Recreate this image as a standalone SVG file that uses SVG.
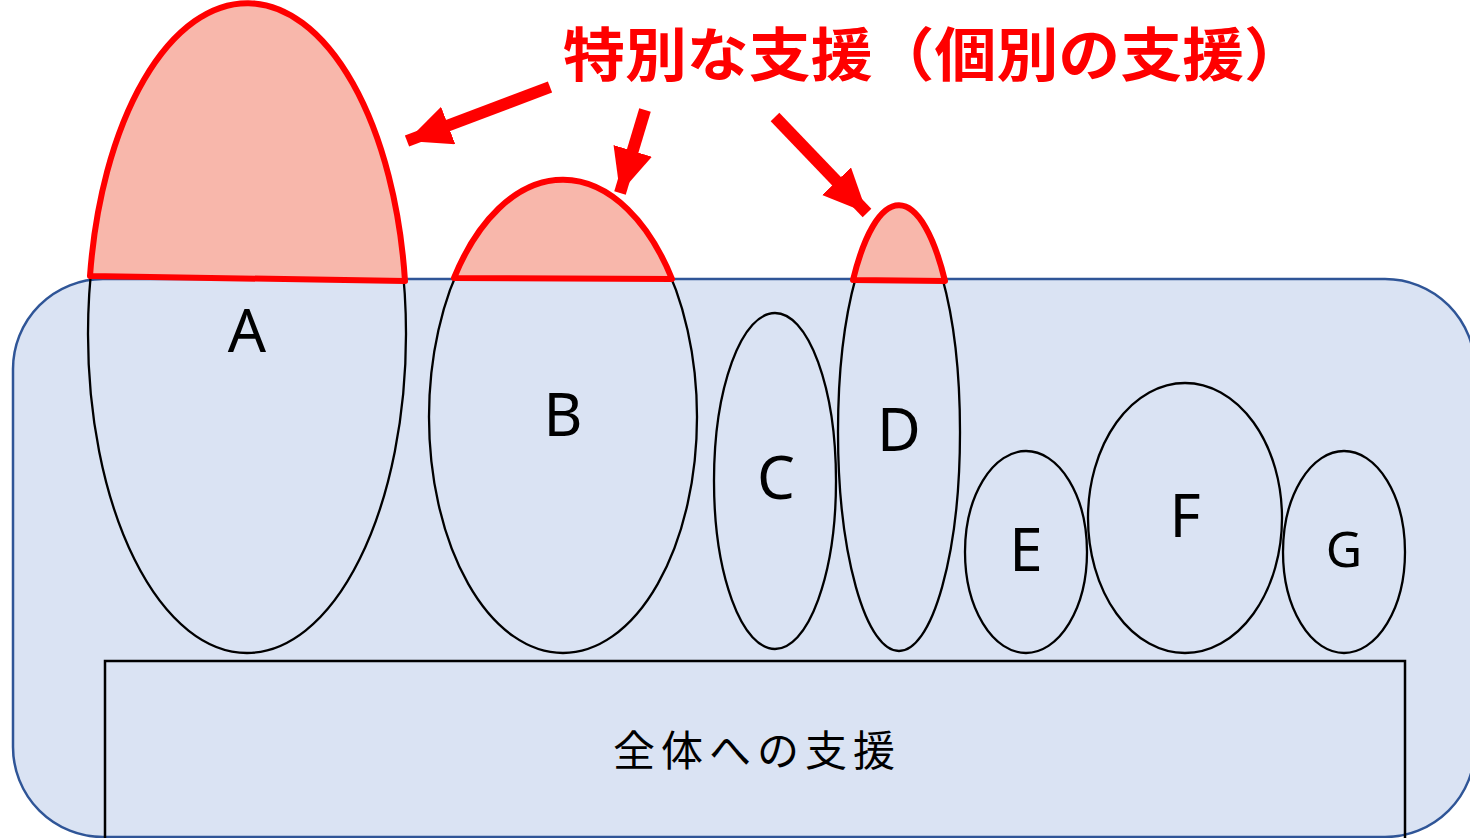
<svg xmlns="http://www.w3.org/2000/svg" width="1470" height="838" viewBox="0 0 1470 838">
<style>
.bg{fill:#DAE3F3;stroke:#2F5597;stroke-width:2.5}
.box{fill:none;stroke:#000;stroke-width:2.5}
.ell{fill:none;stroke:#000;stroke-width:2.3}
.cap{fill:#F8B7AB;stroke:#FF0000;stroke-width:6;stroke-linejoin:round}
.lbl{font-family:"Noto Sans","Liberation Sans",sans-serif;font-size:60px;fill:#000;text-anchor:middle}
.arr{stroke:#FF0000;stroke-width:12;fill:none}
.title{font-family:"Noto Sans CJK JP",sans-serif;font-weight:bold;font-size:58px;fill:#FF0000}
.base{font-family:"Noto Sans CJK JP",sans-serif;font-size:42px;fill:#000;text-anchor:middle}
</style>
<defs>
<marker id="ah" markerUnits="userSpaceOnUse" markerWidth="48" markerHeight="42" refX="44" refY="20" orient="auto">
<path d="M0,0 L44,20 L0,40 Z" fill="#FF0000"/>
</marker>
</defs>
<rect x="0" y="0" width="1470" height="838" fill="#FFFFFF"/>
<g id="whole">
<rect class="bg" x="13" y="279" width="1462" height="558" rx="90" ry="90"/>
</g>
<g id="base">
<rect class="box" x="105" y="661" width="1300" height="190"/>
<text class="base" x="757" y="766" letter-spacing="6">全体への支援</text>
</g>
<g id="A">
<ellipse class="ell" cx="247" cy="334" rx="159" ry="319"/>
<path class="cap" d="M90,276 A159,319 0 0 1 405,281 Z"/>
<text class="lbl" x="247" y="352">A</text>
</g>
<g id="B">
<ellipse class="ell" cx="563" cy="417" rx="134" ry="236"/>
<path class="cap" d="M454,278 A134,236 0 0 1 672,279 Z"/>
<text class="lbl" x="563" y="436">B</text>
</g>
<g id="C">
<ellipse class="ell" cx="775" cy="481" rx="61" ry="168"/>
<text class="lbl" x="776" y="499">C</text>
</g>
<g id="D">
<ellipse class="ell" cx="899" cy="432" rx="61" ry="219"/>
<path class="cap" d="M853,280 A61,219 0 0 1 945,281 Z"/>
<text class="lbl" x="899" y="451">D</text>
</g>
<g id="E">
<ellipse class="ell" cx="1026" cy="552" rx="61" ry="101"/>
<text class="lbl" x="1026" y="571">E</text>
</g>
<g id="F">
<ellipse class="ell" cx="1185" cy="518" rx="97" ry="135"/>
<text class="lbl" x="1185" y="537">F</text>
</g>
<g id="G">
<ellipse class="ell" cx="1344" cy="552" rx="61" ry="101"/>
<text class="lbl" x="1344" y="567" style="font-size:50px">G</text>
</g>
<g id="title">
<text class="title" x="563" y="76" textLength="743" lengthAdjust="spacingAndGlyphs">特別な支援（個別の支援）</text>
</g>
<g id="connectors">
<line class="arr" x1="550" y1="87" x2="407" y2="141" marker-end="url(#ah)"/>
<line class="arr" x1="645" y1="110" x2="620" y2="193" marker-end="url(#ah)"/>
<line class="arr" x1="775" y1="117" x2="867" y2="213" marker-end="url(#ah)"/>
</g>
</svg>
